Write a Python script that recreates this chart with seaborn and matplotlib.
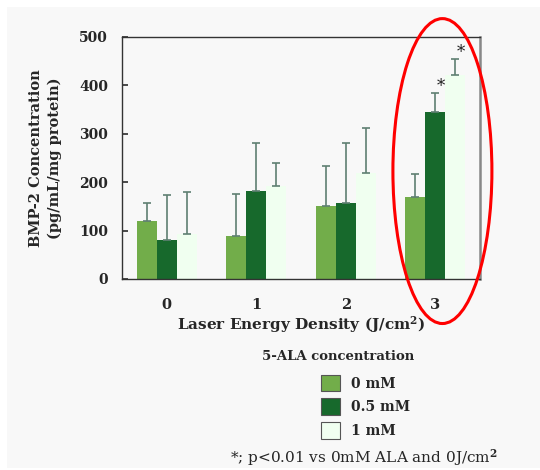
import numpy as np
import pandas as pd
import matplotlib
matplotlib.use("Agg")
import matplotlib.pyplot as plt
from matplotlib.patches import Ellipse, Rectangle, Patch
import seaborn as sns

# data
energy = ["0", "1", "2", "3"]
conc = ["0 mM", "0.5 mM", "1 mM"]
mean_0 = [120, 88, 150, 170]
mean_05 = [81, 181, 156, 346]
mean_1 = [93, 193, 218, 422]
err_0 = [37, 87, 83, 46]
err_05 = [92, 99, 124, 38]
err_1 = [86, 46, 94, 33]
colors = ["#72AD4A", "#17692C", "#F0FFF0"]
yticks = [0, 100, 200, 300, 400, 500]

df = pd.DataFrame({
    "energy": energy * 3,
    "conc": np.repeat(conc, len(energy)),
    "value": mean_0 + mean_05 + mean_1,
})
errs = [err_0, err_05, err_1]

sns.set_theme(style="ticks")
plt.rcParams["font.family"] = ["DejaVu Serif"]
plt.rcParams["font.weight"] = "bold"
plt.rcParams["mathtext.fontset"] = "dejavuserif"

fig = plt.figure(figsize=(5.4, 4.7), dpi=100, facecolor="white")
fig.patches.append(Rectangle((7 / 540, 2 / 470), 1, 1 - 9 / 470, transform=fig.transFigure,
                             facecolor="#F8F8F8", edgecolor="none", zorder=-10))
ax = fig.add_axes([122 / 540, 1 - 279 / 470, 358 / 540, 242 / 470])
ax.set_facecolor("#F8F8F8")

sns.barplot(data=df, x="energy", y="value", hue="conc", hue_order=conc, order=energy,
            palette=colors, saturation=1, width=0.67, errorbar=None, linewidth=0,
            ax=ax, legend=False)

# one-sided error bars
for cont, e in zip(ax.containers, errs):
    xs = [b.get_x() + b.get_width() / 2 for b in cont]
    hs = [b.get_height() for b in cont]
    ax.errorbar(xs, hs, yerr=[np.zeros(len(e)), e], fmt="none", ecolor="#5F7F72",
                elinewidth=1.2, capsize=3, capthick=1.2, zorder=3)

# significance marks (3 J/cm2, 0.5 and 1 mM)
for ci in (1, 2):
    b = ax.containers[ci][3]
    xc = b.get_x() + b.get_width() / 2
    ax.text(xc + 0.06, b.get_height() + errs[ci][3] - 4, "*", ha="center", va="bottom",
            fontsize=12, fontweight="normal", color="#222222")

ax.set_xlim(-0.5, 3.5)
ax.set_ylim(0, 500)
ax.set_yticks(yticks)
ax.tick_params(axis="y", direction="in", length=4, color="#333333", labelsize=10, pad=10)
ax.tick_params(axis="x", length=0, labelsize=10.5, pad=14)
for lab in ax.get_xticklabels() + ax.get_yticklabels():
    lab.set_fontweight("bold")
for s in ("left", "top", "bottom"):
    ax.spines[s].set_color("#333333")
    ax.spines[s].set_linewidth(1)
ax.spines["right"].set_color("#888888")
ax.spines["right"].set_linewidth(1.8)

ax.set_xlabel("Laser Energy Density (J/cm$^\\mathbf{2}$)", fontsize=11, fontweight="bold", labelpad=1)
ax.set_ylabel("BMP-2 Concentration\n(pg/mL/mg protein)", fontsize=10.5, fontweight="bold",
              labelpad=12, linespacing=1.4)

ax.add_patch(Ellipse((3.08, 223), 1.106, 630, fill=False, edgecolor="red", lw=2.2,
                     clip_on=False, zorder=5))

fig.text(262 / 540, 1 - 357 / 470, "5-ALA concentration", fontsize=9.5, fontweight="bold",
         ha="left", va="center")
handles = [Patch(facecolor=c, edgecolor="#555555", linewidth=0.8) for c in colors]
fig.legend(handles, conc, loc="upper left", bbox_to_anchor=(308 / 540, 1 - 362 / 470),
           frameon=False, handlelength=1.4, handleheight=1.5,
           labelspacing=0.5, handletextpad=0.8, prop={"weight": "bold", "size": 10})
fig.text(230 / 540, 1 - 458 / 470, "*; p<0.01 vs 0mM ALA and 0J/cm$^2$", fontsize=11,
         fontweight="normal", ha="left", va="center")

fig.savefig("out.png", dpi=100, facecolor=fig.get_facecolor())
